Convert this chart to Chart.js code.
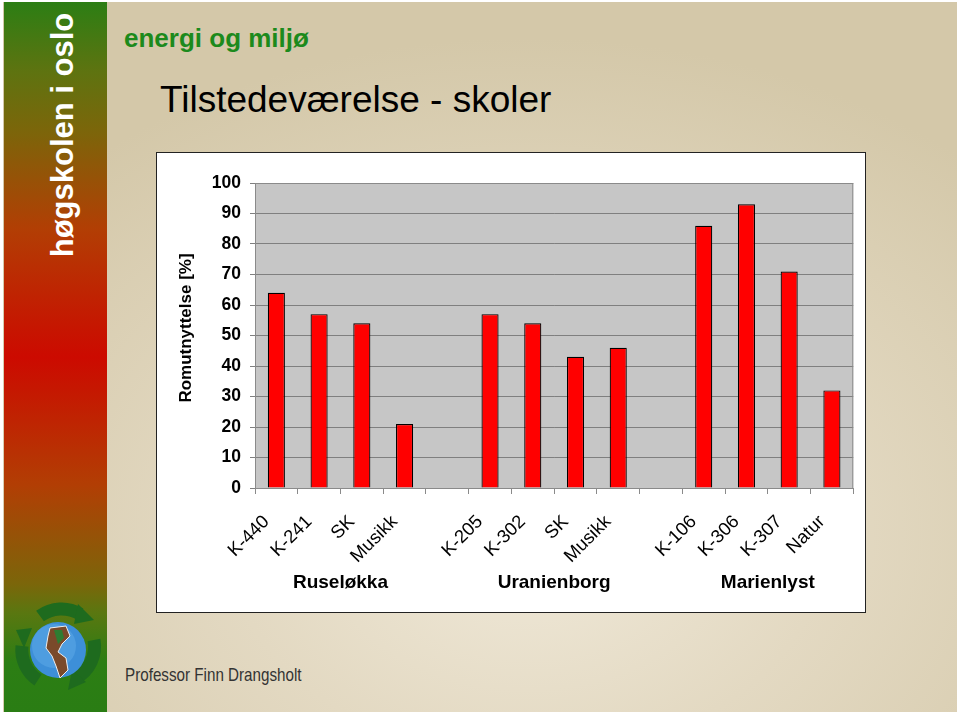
<!DOCTYPE html>
<html>
<head>
<meta charset="utf-8">
<script src="https://cdn.jsdelivr.net/npm/chart.js@4.4.0/dist/chart.umd.min.js"></script>
<style>
  html, body { margin: 0; padding: 0; background: #fff; }
  body { width: 960px; height: 716px; position: relative; overflow: hidden; font-family: "Liberation Sans", Arial, sans-serif; }
  .slide {
    position: absolute; left: 3px; top: 2px; width: 954px; height: 710px;
    background: radial-gradient(ellipse 70% 70% at 55% 75%, #f0e9d9 0%, #e3d9c2 45%, #d4c8a9 100%);
  }
  .bar {
    position: absolute; left: 4px; top: 2px; width: 103px; height: 710px;
    background: linear-gradient(to bottom, #2c7e14 0%, #5f7310 10%, #7b660a 18%, #b23e04 32%, #cc0a00 50%, #b23e04 68%, #7b660a 82%, #5a7710 86%, #2c7e14 93%, #2a7d14 100%);
  }
  .brand {
    position: absolute; left: 63px; top: 135px; transform: translate(-50%, -50%) rotate(-90deg);
    color: #fff; font-weight: bold; font-size: 31px; white-space: nowrap;
  }
  .sub { position: absolute; left: 124px; top: 23px; color: #1c8a1c; font-weight: bold; font-size: 26px; }
  .title { position: absolute; left: 160px; top: 79px; color: #000; font-size: 37px; }
  .author {
    position: absolute; left: 125px; top: 664px; color: #333; font-size: 19px;
    transform: scaleX(0.8); transform-origin: left center; white-space: nowrap;
  }
  .box { position: absolute; left: 156px; top: 152px; width: 708px; height: 459px; background: #fff; border: 1px solid #222; }
  .logo { position: absolute; left: 10px; top: 600px; }
</style>
</head>
<body>
<div class="slide"></div>
<div class="bar"></div>
<div class="brand">høgskolen i oslo</div>
<div class="sub">energi og miljø</div>
<div class="title">Tilstedeværelse - skoler</div>
<div class="author">Professor Finn Drangsholt</div>
<svg class="logo" width="95" height="95" viewBox="0 0 95 95">
  <g fill="none" stroke="#1e6b1e" stroke-width="13">
    <path d="M30 16 A36 36 0 0 1 70 14"/>
    <path d="M84 40 A36 36 0 0 1 66 78"/>
    <path d="M28 80 A36 36 0 0 1 12 46"/>
  </g>
  <g fill="#1e6b1e">
    <polygon points="68,4 84,20 64,24"/>
    <polygon points="76,82 58,90 62,70"/>
    <polygon points="6,30 22,28 14,48"/>
  </g>
  <circle cx="48" cy="50" r="28" fill="#3d8fd8"/>
  <circle cx="44" cy="46" r="22" fill="#5aa6e6" opacity="0.6"/>
  <path d="M40 28 L56 26 L60 36 L52 44 L48 52 L56 58 L58 70 L50 78 L46 66 L42 56 L36 48 L38 36 Z" fill="#7a4a2a" stroke="#eee" stroke-width="1"/>
  <path d="M44 30 L52 30 L54 38 L48 44 Z" fill="#2e7d32"/>
</svg>
<div class="box"><canvas id="myChart" width="708" height="459"></canvas></div>
<script>
const categories = ["K-440", "K-241", "SK", "Musikk", "", "K-205", "K-302", "SK", "Musikk", "", "K-106", "K-306", "K-307", "Natur"];
const values = [64, 57, 54, 21, null, 57, 54, 43, 46, null, 86, 93, 71, 32];
const groupNames = ["Ruseløkka", "Uranienborg", "Marienlyst"];
const groupRanges = [[0, 3], [5, 8], [10, 13]];
const yTitle = "Romutnyttelse [%]";
const yMin = 0;
const yMax = 100;
const yStep = 10;

Chart.defaults.font.family = "'Liberation Sans', Arial, sans-serif";
Chart.defaults.color = "#000";

const plotBg = {
  id: "plotBg",
  beforeDraw(chart) {
    const { ctx, chartArea: a } = chart;
    ctx.save();
    ctx.fillStyle = "#c6c6c6";
    ctx.fillRect(a.left, a.top, a.right - a.left, a.bottom - a.top);
    ctx.restore();
  },
  beforeDatasetsDraw(chart) {
    const { ctx, chartArea: a } = chart;
    ctx.save();
    ctx.strokeStyle = "#8a8a8a";
    ctx.lineWidth = 1;
    ctx.strokeRect(a.left + 0.5, a.top + 0.5, a.right - a.left - 1, a.bottom - a.top);
    ctx.restore();
  },
  afterDraw(chart) {
    const { ctx } = chart;
    const x = chart.scales.x;
    ctx.save();
    ctx.fillStyle = "#000";
    ctx.textAlign = "center";
    ctx.textBaseline = "middle";
    // group names under the rotated labels
    ctx.font = "bold 19px 'Liberation Sans', Arial, sans-serif";
    groupNames.forEach((name, i) => {
      const [a, b] = groupRanges[i];
      const cx = (x.getPixelForValue(a) + x.getPixelForValue(b)) / 2;
      ctx.fillText(name, cx, 430);
    });
    // y axis title
    ctx.font = "bold 17px 'Liberation Sans', Arial, sans-serif";
    ctx.translate(29, 175);
    ctx.rotate(-Math.PI / 2);
    ctx.fillText(yTitle, 0, 0);
    ctx.restore();
  },
};

new Chart(document.getElementById("myChart"), {
  type: "bar",
  data: {
    labels: categories,
    datasets: [
      {
        data: values,
        backgroundColor: "#ff0000",
        borderColor: "#000",
        borderWidth: 1.2,
        categoryPercentage: 1,
        barPercentage: 0.4,
      },
    ],
  },
  options: {
    responsive: false,
    animation: false,
    layout: { padding: { top: 30, right: 11, left: 0, bottom: 0 } },
    plugins: { legend: { display: false }, tooltip: { enabled: false } },
    scales: {
      x: {
        grid: { drawOnChartArea: false, drawTicks: true, tickLength: 6, color: "#8a8a8a" },
        border: { color: "#8a8a8a" },
        ticks: { font: { size: 18.5 }, minRotation: 45, maxRotation: 45, autoSkip: false, padding: 17, labelOffset: -10, color: "#000" },
        afterFit(scale) { scale.height = 124; },
      },
      y: {
        min: yMin,
        max: yMax,
        ticks: { stepSize: yStep, font: { size: 17.5, weight: "bold" }, padding: 9, color: "#000" },
        grid: { color: "#7f7f7f", tickLength: 5, drawTicks: true },
        border: { display: false },
        afterFit(scale) { scale.width = 98; },
      },
    },
  },
  plugins: [plotBg],
});
</script>
</body>
</html>
